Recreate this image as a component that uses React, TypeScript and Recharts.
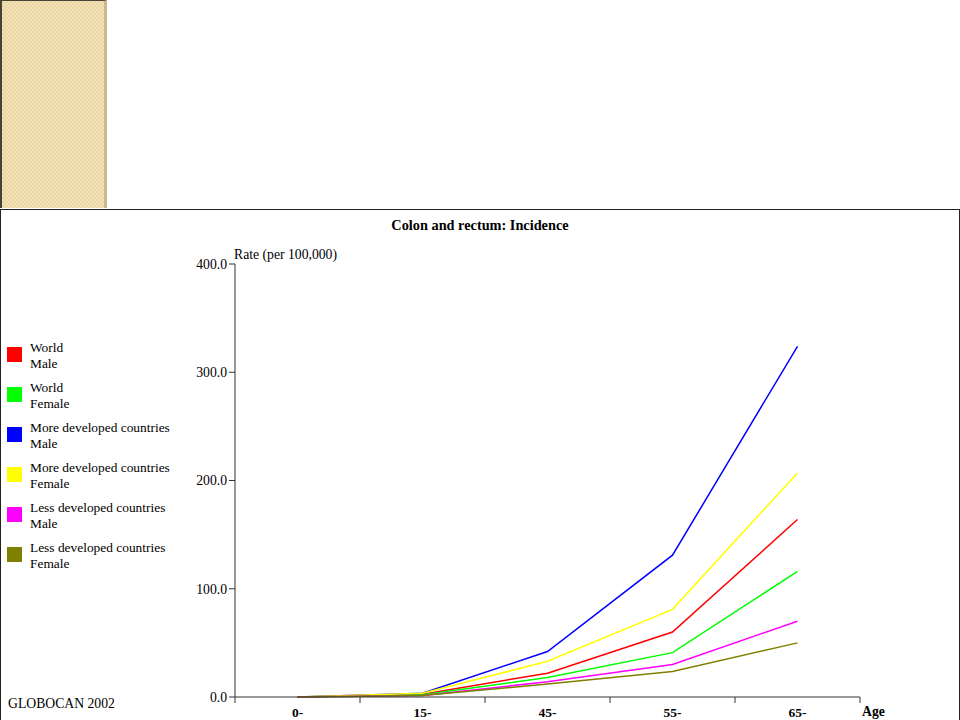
import React from "react";
import { LineChart, Line, XAxis, YAxis } from "recharts";

const AGES = ["0-", "15-", "45-", "55-", "65-"];
const WORLD_MALE = [0.1, 2.5, 22, 60, 164];
const WORLD_FEMALE = [0.1, 2, 18, 41, 116];
const MORE_DEV_MALE = [0.1, 3.5, 42, 131, 324];
const MORE_DEV_FEMALE = [0.1, 3.5, 33, 81, 207];
const LESS_DEV_MALE = [0.1, 1.5, 14, 30, 70];
const LESS_DEV_FEMALE = [0.1, 1.3, 12, 23.5, 50];
const Y_TICKS = [0, 100, 200, 300, 400];

const SERIES = [
  { key: "wm", region: "World", sex: "Male", color: "#ff0000", values: WORLD_MALE },
  { key: "wf", region: "World", sex: "Female", color: "#00ff00", values: WORLD_FEMALE },
  { key: "mm", region: "More developed countries", sex: "Male", color: "#0000ff", values: MORE_DEV_MALE },
  { key: "mf", region: "More developed countries", sex: "Female", color: "#ffff00", values: MORE_DEV_FEMALE },
  { key: "lm", region: "Less developed countries", sex: "Male", color: "#ff00ff", values: LESS_DEV_MALE },
  { key: "lf", region: "Less developed countries", sex: "Female", color: "#808000", values: LESS_DEV_FEMALE },
];

const data = AGES.map((age, i) => {
  const row: Record<string, string | number> = { age };
  SERIES.forEach((s) => {
    row[s.key] = s.values[i];
  });
  return row;
});

const FONT = "'Liberation Serif', 'Times New Roman', serif";
const AXIS = "#333";

function AgeTick(props: any) {
  const { x, y, payload, index } = props;
  const off = payload?.offset ?? 62.5;
  const axisY = y - 8;
  return (
    <g>
      {index === 0 && <line x1={x - off} y1={axisY} x2={x - off} y2={axisY + 6} stroke={AXIS} />}
      <line x1={x + off} y1={axisY} x2={x + off} y2={axisY + 6} stroke={AXIS} />
      <text x={x} y={axisY + 20} textAnchor="middle" fontFamily={FONT} fontSize={13.5} fontWeight="bold" fill="#000">
        {payload.value}
      </text>
    </g>
  );
}

export default function App() {
  return (
    <div style={{ position: "absolute", left: 0, top: 0, width: 960, height: 720, background: "#fff", overflow: "hidden", fontFamily: FONT }}>
      <div
        style={{
          position: "absolute",
          left: 0,
          top: 0,
          width: 107,
          height: 208,
          borderLeft: "2px solid #4a4232",
          borderTop: "1px solid #4a4232",
          borderRight: "3px solid #cdb891",
          boxSizing: "border-box",
          background: "repeating-conic-gradient(#f3e1b6 0 25%, #ebd6a6 0 50%) 0 0/4px 4px",
        }}
      />
      <div
        style={{
          position: "absolute",
          left: 0,
          top: 209,
          width: 960,
          height: 520,
          borderTop: "1px solid #222",
          borderLeft: "1px solid #222",
          borderRight: "1px solid #222",
          boxSizing: "border-box",
        }}
      />
      <div style={{ position: "absolute", left: 0, top: 217, width: 960, textAlign: "center", fontSize: 14.3, fontWeight: "bold" }}>
        Colon and rectum: Incidence
      </div>
      <div style={{ position: "absolute", left: 234, top: 247, fontSize: 13.7 }}>Rate (per 100,000)</div>
      <div style={{ position: "absolute", left: 862, top: 704, fontSize: 13.7, fontWeight: "bold" }}>Age</div>
      <div style={{ position: "absolute", left: 8, top: 696, fontSize: 13.7 }}>GLOBOCAN 2002</div>
      {SERIES.map((s, i) => (
        <div key={s.key} style={{ position: "absolute", left: 7, top: 340 + i * 40, height: 32 }}>
          <div style={{ position: "absolute", left: 0, top: 7, width: 15, height: 15, background: s.color }} />
          <div style={{ position: "absolute", left: 23, top: 0, fontSize: 13.4, lineHeight: "16px", whiteSpace: "nowrap" }}>
            {s.region}
            <br />
            {s.sex}
          </div>
        </div>
      ))}
      <div style={{ position: "absolute", left: 0, top: 0 }}>
        <LineChart width={960} height={720} data={data} margin={{ top: 264, right: 100, bottom: 3, left: 175 }}>
          <XAxis
            dataKey="age"
            scale="band"
            height={20}
            stroke={AXIS}
            tickLine={false}
            tickSize={6}
            tickMargin={2}
            interval={0}
            tick={<AgeTick />}
          />
          <YAxis
            width={60}
            domain={[0, 400]}
            ticks={Y_TICKS}
            stroke={AXIS}
            tickSize={6}
            tickFormatter={(v: number) => v.toFixed(1)}
            tick={{ fill: "#000", fontSize: 13.7, fontFamily: FONT }}
          />
          {SERIES.map((s) => (
            <Line
              key={s.key}
              dataKey={s.key}
              type="linear"
              stroke={s.color}
              strokeWidth={1.5}
              dot={false}
              isAnimationActive={false}
            />
          ))}
        </LineChart>
      </div>
    </div>
  );
}
